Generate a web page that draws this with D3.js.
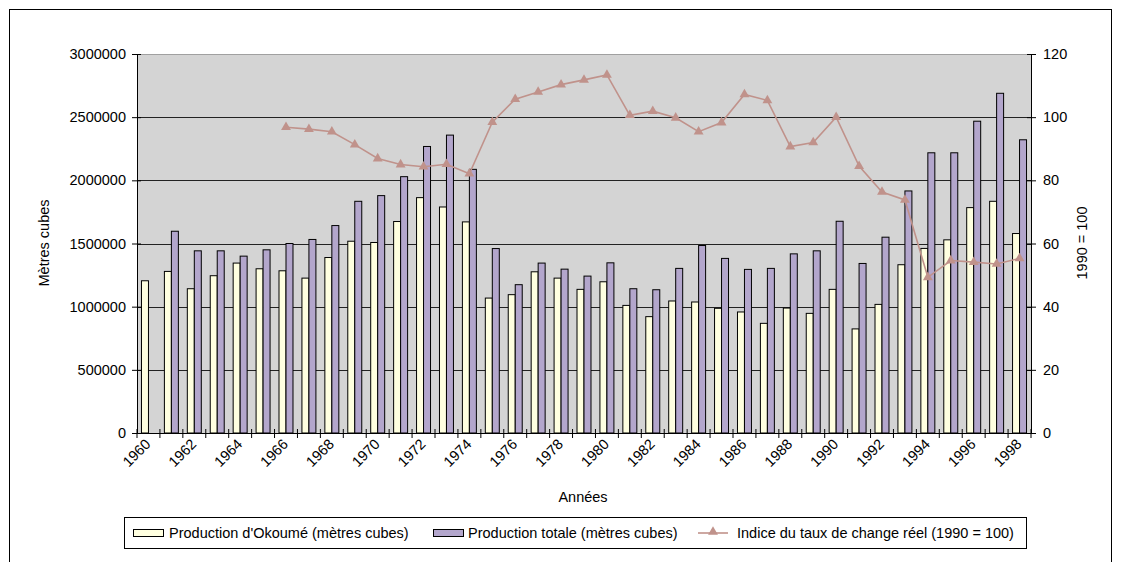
<!DOCTYPE html>
<html lang="fr">
<head>
  <meta charset="UTF-8">
  <title>Production de bois et taux de change</title>
  <style>
    body { margin: 0; background: #ffffff; }
    #thesvg { width: 1121px; height: 562px; display: block; }
    text { font-family: "Liberation Sans", Arial, sans-serif; font-size: 14.5px; fill: #000; }
  </style>
</head>
<body>
  <script src="https://d3js.org/d3.v7.min.js"></script>
  <svg id="thesvg"></svg>
  <script>

    // values
    var years = d3.range(1960, 1999).map(String);

    var okoume = [1205000, 1279000, 1142000, 1245000, 1345000, 1300000, 1284000, 1226000, 1389000, 1518000,
                  1508000, 1674000, 1863000, 1789000, 1671000, 1068000, 1095000, 1276000, 1226000, 1137000,
                  1197000, 1010000, 921000, 1045000, 1037000, 987000, 958000, 868000, 989000, 947000,
                  1137000, 824000, 1018000, 1332000, 1461000, 1529000, 1784000, 1834000, 1579000];

    var totale = [null, 1597000, 1442000, 1442000, 1400000, 1450000, 1500000, 1532000, 1642000, 1834000,
                  1879000, 2029000, 2268000, 2358000, 2087000, 1460000, 1174000, 1345000, 1297000, 1242000,
                  1347000, 1142000, 1134000, 1303000, 1484000, 1382000, 1295000, 1303000, 1418000, 1442000,
                  1676000, 1342000, 1550000, 1916000, 2218000, 2218000, 2468000, 2689000, 2321000];

    var indice = [null, null, null, null, null, null, 96.8, 96.2, 95.4, 91.3,
                  86.9, 85.0, 84.3, 85.1, 82.1, 98.4, 105.7, 108.0, 110.3, 111.8,
                  113.4, 100.6, 101.9, 99.8, 95.4, 98.3, 107.2, 105.3, 90.7, 92.0,
                  100.0, 84.5, 76.3, 73.8, 49.3, 54.6, 54.1, 53.5, 55.3];

    var leftTicks = [0, 500000, 1000000, 1500000, 2000000, 2500000, 3000000];
    var rightTicks = [0, 20, 40, 60, 80, 100, 120];
    var legendLabels = ["Production d'Okoumé (mètres cubes)", "Production totale (mètres cubes)",
                        "Indice du taux de change réel (1990 = 100)"];

    var colOk = "#ffffe0", colTot = "#b3a6cc", colLine = "#c0928b";
    var fs = 14.5;

    var svg = d3.select("svg");
    var pLeft = 137, pRight = 1031, pTop = 54, pBottom = 433;

    var x0 = d3.scaleBand().domain(years).range([pLeft, pRight]);
    var x1 = d3.scaleBand().domain(["ok", "tot"]).range([0, x0.bandwidth()]).paddingOuter(0.64);
    var yL = d3.scaleLinear().domain([0, 3000000]).range([pBottom, pTop]);
    var yR = d3.scaleLinear().domain([0, 120]).range([pBottom, pTop]);

    // outer frame
    svg.append("rect").attr("x", 9.5).attr("y", 9.5).attr("width", 1102).attr("height", 620)
      .attr("fill", "none").attr("stroke", "#000");

    // plot area
    svg.append("rect").attr("x", pLeft).attr("y", pTop).attr("width", pRight - pLeft).attr("height", pBottom - pTop)
      .attr("fill", "#d4d4d4");
    svg.append("line").attr("x1", pLeft).attr("x2", pRight).attr("y1", pTop + 0.5).attr("y2", pTop + 0.5)
      .attr("stroke", "#a0a0a0");

    svg.selectAll(".grid")
      .data(leftTicks.slice(1, -1))
      .enter()
      .append("line")
      .attr("x1", pLeft).attr("x2", pRight)
      .attr("y1", d => Math.round(yL(d)) + 0.5).attr("y2", d => Math.round(yL(d)) + 0.5)
      .attr("stroke", "#222");

    // bars
    var groups = svg.selectAll(".year")
      .data(years)
      .enter()
      .append("g")
      .attr("transform", d => "translate(" + x0(d) + ",0)");

    groups.append("rect")
      .attr("x", x1("ok")).attr("width", x1.bandwidth())
      .attr("y", (d, i) => yL(okoume[i])).attr("height", (d, i) => pBottom - yL(okoume[i]))
      .attr("fill", colOk).attr("stroke", "#000").attr("stroke-width", 1);

    groups.filter((d, i) => totale[i] != null)
      .append("rect")
      .attr("x", x1("tot")).attr("width", x1.bandwidth())
      .attr("y", d => yL(totale[years.indexOf(d)])).attr("height", d => pBottom - yL(totale[years.indexOf(d)]))
      .attr("fill", colTot).attr("stroke", "#000").attr("stroke-width", 1);

    // exchange-rate index line
    var pts = years.map((d, i) => ({ x: x0(d) + x0.bandwidth() / 2, v: indice[i] })).filter(d => d.v != null);
    var line = d3.line().x(d => d.x).y(d => yR(d.v));
    svg.append("path").datum(pts).attr("d", line)
      .attr("fill", "none").attr("stroke", colLine).attr("stroke-width", 1.6);

    var tri = d3.symbol().type(d3.symbolTriangle).size(42);
    svg.selectAll(".mk")
      .data(pts)
      .enter()
      .append("path")
      .attr("d", tri)
      .attr("transform", d => "translate(" + d.x + "," + yR(d.v) + ")")
      .attr("fill", colLine);

    // axes
    var axL = svg.append("g").attr("transform", "translate(" + pLeft + ",0)")
      .call(d3.axisLeft(yL).tickValues(leftTicks).tickFormat(d3.format("d")).tickSizeInner(5).tickSizeOuter(0).tickPadding(6));
    var axR = svg.append("g").attr("transform", "translate(" + pRight + ",0)")
      .call(d3.axisRight(yR).tickValues(rightTicks).tickSizeInner(5).tickSizeOuter(0).tickPadding(7));
    [axL, axR].forEach(function(ax) {
      ax.select(".domain").attr("stroke", "#000");
      ax.selectAll("text").attr("font-size", fs).attr("font-family", "Liberation Sans, Arial, sans-serif");
    });
    // cross ticks
    axL.selectAll(".tick line").attr("x1", 4);
    axR.selectAll(".tick line").attr("x1", -4);

    var bounds = years.concat(["end"]);
    svg.selectAll(".xt")
      .data(bounds)
      .enter()
      .append("line")
      .attr("x1", d => d === "end" ? pRight : x0(d)).attr("x2", d => d === "end" ? pRight : x0(d))
      .attr("y1", pBottom - 4).attr("y2", pBottom + 5)
      .attr("stroke", "#000");
    svg.append("line").attr("x1", pLeft).attr("x2", pRight).attr("y1", pBottom + 0.5).attr("y2", pBottom + 0.5)
      .attr("stroke", "#000");

    svg.selectAll(".xl")
      .data(years.filter((d, i) => i % 2 === 0))
      .enter()
      .append("text")
      .attr("text-anchor", "end")
      .attr("transform", d => "translate(" + (x0(d) + x0.bandwidth() / 2 + 3) + "," + (pBottom + 12) + ") rotate(-45)")
      .text(d => d);

    // titles
    svg.append("text").attr("x", 583).attr("y", 502).attr("text-anchor", "middle").text("Années");
    svg.append("text").attr("text-anchor", "middle")
      .attr("transform", "translate(49,243) rotate(-90)").text("Mètres cubes");
    svg.append("text").attr("text-anchor", "middle")
      .attr("transform", "translate(1087,243) rotate(-90)").text("1990 = 100");

    // legend
    var lg = svg.append("g");
    lg.append("rect").attr("x", 124.5).attr("y", 517.5).attr("width", 902).attr("height", 31)
      .attr("fill", "#fff").attr("stroke", "#000");
    lg.append("rect").attr("x", 133.5).attr("y", 529.5).attr("width", 30).attr("height", 7)
      .attr("fill", colOk).attr("stroke", "#000");
    lg.append("text").attr("x", 169).attr("y", 538).text(legendLabels[0]);
    lg.append("rect").attr("x", 433.5).attr("y", 529.5).attr("width", 30).attr("height", 7)
      .attr("fill", colTot).attr("stroke", "#000");
    lg.append("text").attr("x", 468).attr("y", 538).text(legendLabels[1]);
    lg.append("line").attr("x1", 698).attr("x2", 728).attr("y1", 533).attr("y2", 533)
      .attr("stroke", colLine).attr("stroke-width", 1.6);
    lg.append("path").attr("d", tri).attr("transform", "translate(713,532)").attr("fill", colLine);
    lg.append("text").attr("x", 737).attr("y", 538).text(legendLabels[2]);

  </script>
</body>
</html>
